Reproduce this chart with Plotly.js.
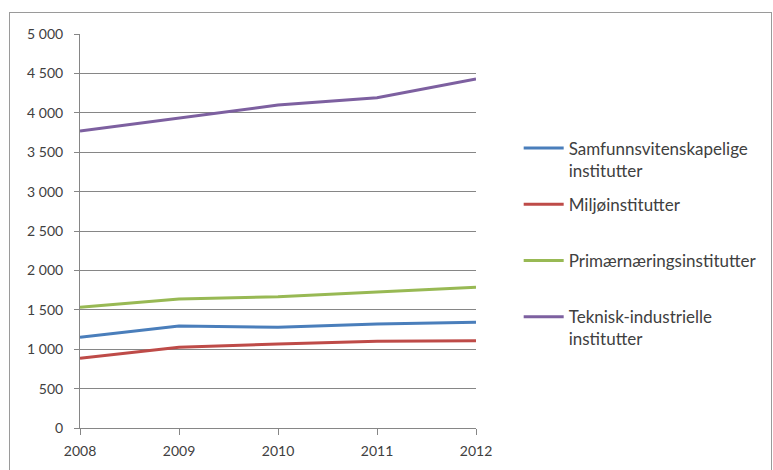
<!DOCTYPE html>
<html>
<head>
<meta charset="utf-8">
<script src="https://cdn.plot.ly/plotly-3.0.1.min.js"></script>
<style>
html,body{margin:0;padding:0;background:#fff;overflow:hidden;}
#frame{position:absolute;left:9px;top:12px;width:763px;height:470px;border:1px solid #9a9a9a;box-sizing:border-box;}
#chart{position:absolute;left:0;top:0;width:773px;height:470px;}
</style>
</head>
<body>
<div id="chart"></div>
<div id="frame"></div>
<script>
var years = [2008, 2009, 2010, 2011, 2012];
var seriesNames = [
  "Samfunnsvitenskapelige<br>institutter",
  "Miljøinstitutter<br> ",
  "Primærnæringsinstitutter<br> ",
  "Teknisk-industrielle<br>institutter"
];
var samfunn = [1151, 1294, 1278, 1320, 1341];
var miljo = [884, 1024, 1066, 1100, 1108];
var primaer = [1532, 1637, 1666, 1730, 1785];
var teknisk = [3769, 3930, 4099, 4192, 4429];
var colors = ["#4A7EBB", "#BE4B48", "#98B954", "#7D60A0"];
var yTicks = [0, 500, 1000, 1500, 2000, 2500, 3000, 3500, 4000, 4500, 5000];

var allSeries = [samfunn, miljo, primaer, teknisk];
var traces = allSeries.map(function (vals, i) {
  return {
    x: years, y: vals, type: "scatter", mode: "lines",
    name: seriesNames[i], legendgroup: "g" + i,
    line: {color: colors[i], width: 3}
  };
});

var layout = {
  width: 773, height: 470,
  margin: {l: 80, r: 296, t: 34, b: 42},
  paper_bgcolor: "#fff", plot_bgcolor: "#fff",
  separators: ", ",
  font: {family: "Lato, 'Open Sans', sans-serif", size: 14, color: "#404040"},
  showlegend: true,
  legend: {
    x: 1.105, y: 0.755, xanchor: "left", yanchor: "top",
    traceorder: "grouped", tracegroupgap: 9, valign: "top",
    font: {family: "Lato, 'Open Sans', sans-serif", size: 17, color: "#404040"},
    itemwidth: 40
  },
  xaxis: {
    range: [2008, 2012], tickmode: "array", tickvals: years,
    ticks: "outside", ticklen: 6, tickcolor: "#868686",
    showline: true, linecolor: "#868686", linewidth: 1,
    showgrid: false, zeroline: false, ticklabelstandoff: 4
  },
  yaxis: {
    range: [0, 5000], tickmode: "array", tickvals: yTicks, tickformat: ",",
    ticks: "outside", ticklen: 5, tickcolor: "#868686",
    showline: true, linecolor: "#868686", linewidth: 1,
    showgrid: true, gridcolor: "#868686", gridwidth: 1,
    zeroline: false, ticklabelstandoff: 8
  }
};

Plotly.newPlot("chart", traces, layout, {displayModeBar: false, staticPlot: true});
</script>
</body>
</html>
